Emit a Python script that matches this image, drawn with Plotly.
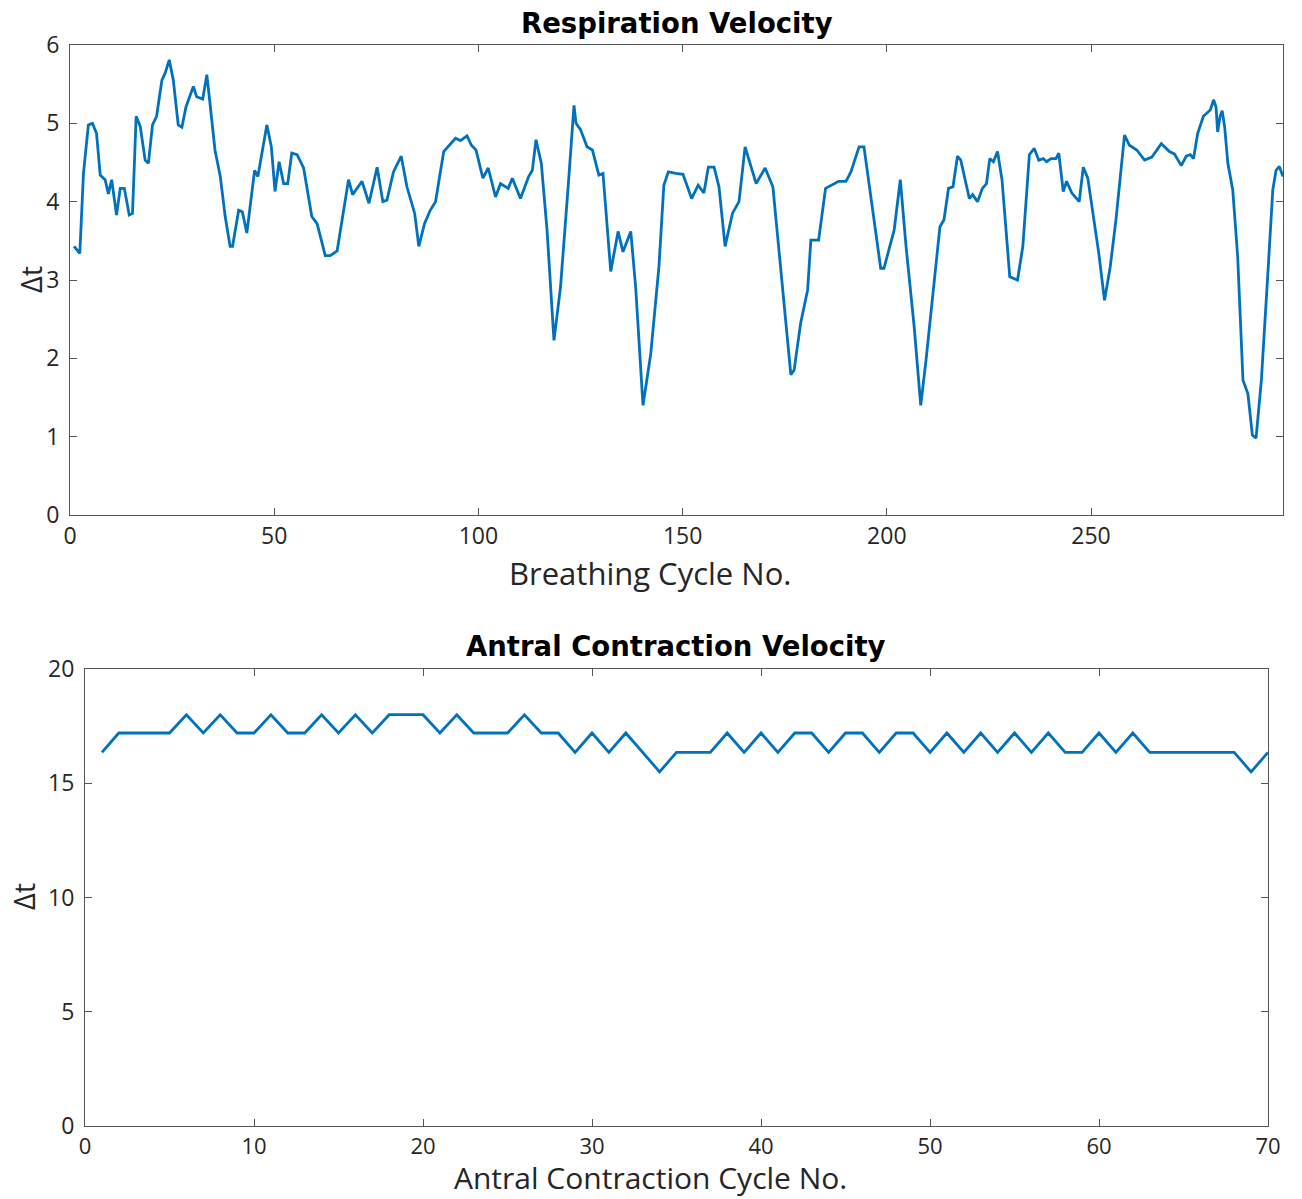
import plotly.graph_objects as go

# ---- Respiration velocity (vertices) ----
resp_cycle = [1.0, 2.4, 3.3, 4.5, 5.5, 6.5, 7.4, 8.6, 9.4, 10.2, 11.4, 12.3, 13.3, 14.5, 15.3,
              16.2, 17.2, 18.4, 19.2, 20.2, 21.2, 22.5, 23.3, 24.3, 25.3, 26.5, 27.4, 28.4, 30.2,
              31.0, 32.5, 33.5, 34.1, 35.5, 36.8, 38.0, 39.2, 39.8, 41.3, 42.2, 43.3, 45.2, 46.0,
              48.2, 49.3, 50.2, 51.2, 52.3, 53.3, 54.3, 55.6, 57.2, 59.2, 60.5, 62.5, 63.7, 65.4,
              68.2, 69.2, 71.5, 73.2, 75.2, 76.6, 77.6, 79.2, 81.1, 82.5, 84.4, 85.4, 86.8, 88.2,
              89.5, 91.5, 94.4, 95.6, 97.2, 98.3, 99.4, 101.1, 102.4, 104.2, 105.4, 107.3, 108.3,
              110.3, 112.3, 113.2, 114.1, 115.4, 116.8, 118.5, 120.1, 122.1, 123.4, 123.9, 125.0,
              126.6, 127.9, 129.5, 130.5, 132.4, 134.2, 135.4, 137.3, 138.5, 140.3, 142.2, 144.2,
              145.4, 146.5, 148.3, 150.1, 152.2, 153.8, 155.2, 156.3, 157.7, 158.9, 160.4, 162.2,
              163.8, 165.3, 168.0, 170.2, 172.1, 174.0, 176.5, 177.3, 178.9, 180.6, 181.4, 183.3,
              185.0, 188.2, 190.0, 191.2, 193.2, 194.4, 196.1, 198.5, 199.3, 201.8, 203.3, 204.7,
              206.7, 208.3, 209.6, 211.2, 213.0, 214.0, 215.1, 216.2, 217.3, 218.1, 220.2, 221.0,
              222.2, 223.4, 224.4, 225.2, 226.1, 227.1, 228.2, 230.1, 232.0, 233.3, 234.9, 236.1,
              237.2, 238.3, 239.1, 240.2, 241.4, 242.1, 243.2, 244.0, 245.3, 247.1, 248.1, 249.2,
              250.4, 251.9, 253.3, 254.7, 256.1, 258.2, 259.4, 261.2, 263.1, 264.9, 267.2, 269.2,
              270.4, 272.1, 273.3, 274.3, 275.1, 276.1, 277.5, 279.2, 280.0, 280.6, 281.0, 281.6,
              282.1, 282.7, 283.5, 284.7, 285.9, 287.2, 288.4, 289.5, 290.4, 291.7, 293.3, 294.5,
              295.3, 296.1, 297.0]
resp_dt = [3.43, 3.34, 4.36, 4.98, 5.00, 4.87, 4.34, 4.28, 4.10, 4.28, 3.83, 4.17, 4.17, 3.83, 3.85,
           5.09, 4.96, 4.53, 4.49, 4.98, 5.09, 5.55, 5.64, 5.81, 5.55, 4.98, 4.95, 5.21, 5.47,
           5.34, 5.31, 5.62, 5.34, 4.66, 4.32, 3.81, 3.43, 3.43, 3.89, 3.87, 3.60, 4.40, 4.32,
           4.98, 4.70, 4.13, 4.51, 4.23, 4.23, 4.62, 4.60, 4.43, 3.81, 3.72, 3.31, 3.31, 3.37,
           4.28, 4.09, 4.26, 3.98, 4.44, 4.00, 4.02, 4.38, 4.58, 4.19, 3.85, 3.43, 3.72, 3.89,
           4.00, 4.64, 4.81, 4.78, 4.84, 4.72, 4.66, 4.30, 4.43, 4.06, 4.23, 4.17, 4.30,
           4.04, 4.32, 4.40, 4.79, 4.49, 3.64, 2.23, 2.91, 4.28, 5.23, 5.00, 4.92,
           4.70, 4.66, 4.34, 4.36, 3.11, 3.62, 3.36, 3.62, 2.91, 1.40, 2.06, 3.17,
           4.21, 4.38, 4.36, 4.35, 4.04, 4.21, 4.11, 4.44, 4.44, 4.19, 3.43, 3.85,
           4.00, 4.70, 4.23, 4.43, 4.19, 3.17, 1.79, 1.85, 2.45, 2.87, 3.51, 3.51,
           4.17, 4.26, 4.26, 4.38, 4.70, 4.70, 4.06, 3.15, 3.15, 3.64, 4.28, 3.43,
           2.40, 1.40, 1.98, 2.79, 3.68, 3.77, 4.17, 4.19, 4.58, 4.53, 4.04, 4.09,
           4.00, 4.17, 4.23, 4.55, 4.51, 4.64, 4.28, 3.04, 3.00, 3.43, 4.60, 4.68,
           4.53, 4.55, 4.51, 4.55, 4.55, 4.62, 4.13, 4.26, 4.11, 4.00, 4.44, 4.30,
           3.85, 3.34, 2.74, 3.17, 3.77, 4.85, 4.72, 4.66, 4.53, 4.57, 4.74, 4.64,
           4.61, 4.46, 4.58, 4.60, 4.55, 4.87, 5.09, 5.17, 5.30, 5.21, 4.89, 5.09,
           5.16, 4.96, 4.49, 4.15, 3.30, 1.72, 1.55, 1.02, 0.98, 1.72, 3.09, 4.15,
           4.40, 4.45, 4.32]

# ---- Antral contraction velocity ----
antral_cycle = list(range(1, 71))
antral_dt = [16.35, 17.2, 17.2, 17.2, 17.2, 18.0, 17.2, 18.0, 17.2, 17.2,
             18.0, 17.2, 17.2, 18.0, 17.2, 18.0, 17.2, 18.0, 18.0, 18.0,
             17.2, 18.0, 17.2, 17.2, 17.2, 18.0, 17.2, 17.2, 16.35, 17.2,
             16.35, 17.2, 16.35, 15.5, 16.35, 16.35, 16.35, 17.2, 16.35, 17.2,
             16.35, 17.2, 17.2, 16.35, 17.2, 17.2, 16.35, 17.2, 17.2, 16.35,
             17.2, 16.35, 17.2, 16.35, 17.2, 16.35, 17.2, 16.35, 16.35, 17.2,
             16.35, 17.2, 16.35, 16.35, 16.35, 16.35, 16.35, 16.35, 15.5, 16.35]

resp_xticks = [0, 50, 100, 150, 200, 250]
resp_yticks = [0, 1, 2, 3, 4, 5, 6]
antral_xticks = [0, 10, 20, 30, 40, 50, 60, 70]
antral_yticks = [0, 5, 10, 15, 20]

# the page's body margin is removed by a post script, so the figure fills the window
W, H = 1302, 1199
LINE = "#0072BD"
AXC = "#555555"
TXT = "#262626"

def px(x):
    return x / W

def py(y):
    return 1 - y / H

fig = go.Figure()
fig.add_trace(go.Scatter(x=resp_cycle, y=resp_dt, mode="lines",
                         line=dict(color=LINE, width=2.8), xaxis="x", yaxis="y",
                         showlegend=False))
fig.add_trace(go.Scatter(x=antral_cycle, y=antral_dt, mode="lines",
                         line=dict(color=LINE, width=2.8), xaxis="x2", yaxis="y2",
                         showlegend=False))

axis_common = dict(showline=True, linecolor=AXC, linewidth=1.2, mirror="ticks",
                   ticks="inside", ticklen=7, tickcolor=AXC, tickwidth=1.2,
                   showgrid=False, zeroline=False, automargin=False,
                   tickfont=dict(family="Open Sans", size=23, color=TXT))
xcommon = dict(axis_common, ticklabelstandoff=0)
ycommon = dict(axis_common, ticklabelstandoff=5)

fig.update_layout(
    width=W, height=H, autosize=False,
    margin=dict(l=0, r=0, t=0, b=0, pad=0, autoexpand=False),
    paper_bgcolor="white", plot_bgcolor="white",
    xaxis=dict(domain=[px(70), px(1283)], range=[0, 297], tickvals=resp_xticks,
               anchor="y", **xcommon),
    yaxis=dict(domain=[py(515), py(45)], range=[0, 6], tickvals=resp_yticks,
               anchor="x", **ycommon),
    xaxis2=dict(domain=[px(85), px(1268)], range=[0, 70], tickvals=antral_xticks,
                anchor="y2", **dict(xcommon, tickfont=dict(family="Open Sans", size=22, color=TXT))),
    yaxis2=dict(domain=[py(1126), py(669)], range=[0, 20], tickvals=antral_yticks,
                anchor="x2", **ycommon),
)

ann = [
    dict(text="<b>Respiration Velocity</b>", x=px(677), y=py(23), xanchor="center", yanchor="middle",
         font=dict(family="DejaVu Sans", size=27.5, color="black")),
    dict(text="<b>Antral Contraction Velocity</b>", x=px(676), y=py(646), xanchor="center", yanchor="middle",
         font=dict(family="DejaVu Sans", size=27.5, color="black")),
    dict(text="Breathing Cycle No.", x=px(650), y=py(573), xanchor="center", yanchor="middle",
         font=dict(family="Open Sans", size=31, color=TXT)),
    dict(text="Antral Contraction Cycle No.", x=px(650), y=py(1177), xanchor="center", yanchor="middle",
         borderpad=0, font=dict(family="Open Sans", size=30, color=TXT)),
    dict(text="Δt", x=px(30), y=py(280), xanchor="center", yanchor="middle", textangle=-90,
         font=dict(family="Open Sans", size=29, color=TXT)),
    dict(text="Δt", x=px(24), y=py(897), xanchor="center", yanchor="middle", textangle=-90,
         font=dict(family="Open Sans", size=29, color=TXT)),
]
for a in ann:
    a.update(xref="paper", yref="paper", showarrow=False)
fig.update_layout(annotations=ann)

fig.write_html("out.html", config={"displayModeBar": False},
               post_script="document.body.style.margin='0';document.body.style.overflow='hidden';")
